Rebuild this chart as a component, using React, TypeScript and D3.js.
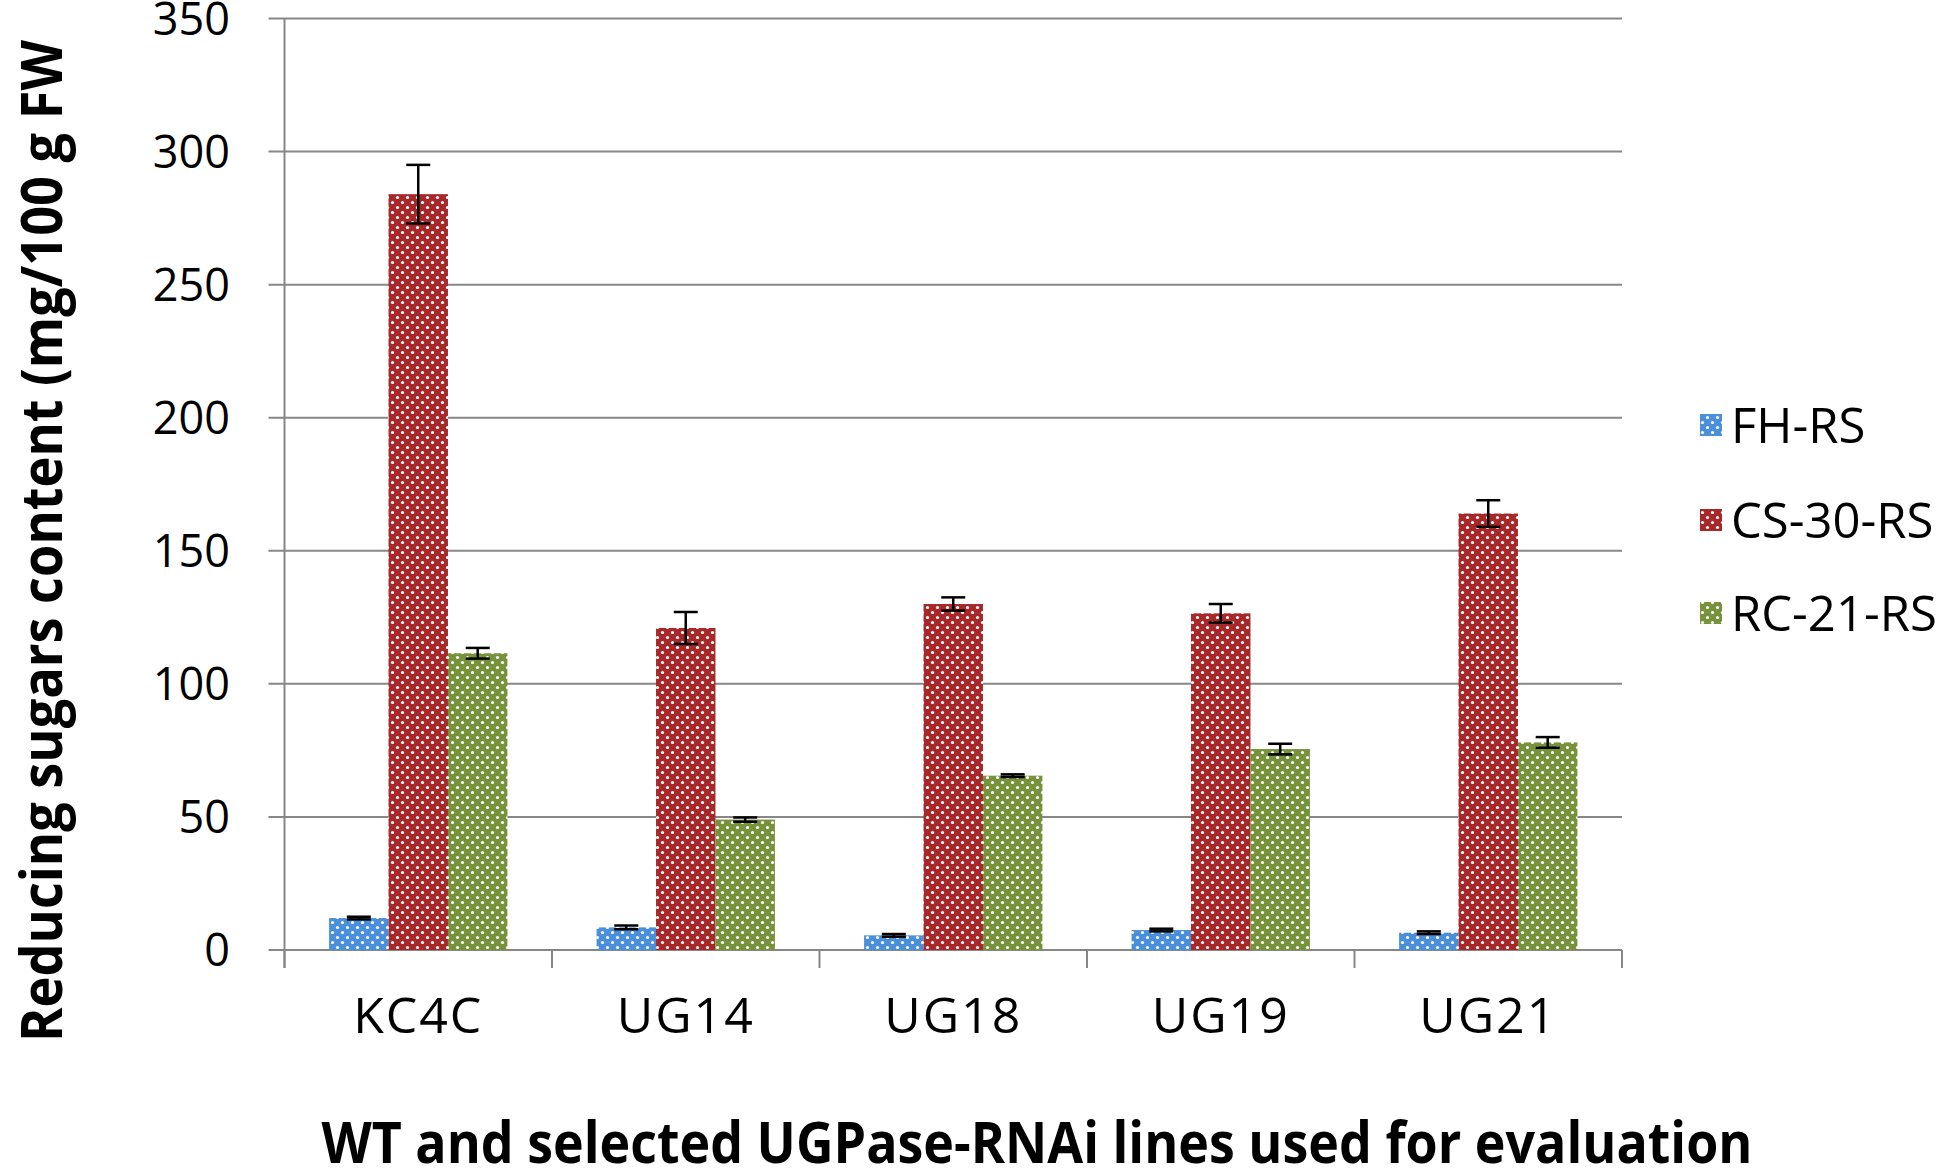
import React from "react";
import * as d3 from "d3";

const categories = ["KC4C", "UG14", "UG18", "UG19", "UG21"];
const seriesNames = ["FH-RS", "CS-30-RS", "RC-21-RS"];
const fhValues = [12, 8.5, 5.5, 7.5, 6.5];
const fhErrors = [0.5, 0.7, 0.5, 0.5, 0.5];
const csValues = [284, 121, 130, 126.5, 164];
const csErrors = [11, 6, 2.5, 3.5, 5];
const rcValues = [111.5, 49, 65.5, 75.5, 78];
const rcErrors = [2, 0.8, 0.5, 2, 2];
const yTicks = [0, 50, 100, 150, 200, 250, 300, 350];
const seriesColors = ["#4a8fdc", "#a8282a", "#76933c"];

const W = 1949;
const H = 1173;
const left = 284.5;
const right = 1622;
const top = 18.5;
const bottom = 950;
const FONT = "'Open Sans', 'Noto Sans', sans-serif";
const GRID = "#878787";

export default function App() {
  const y = d3.scaleLinear().domain([0, 350]).range([bottom, top]);
  const x = d3.scaleBand<string>().domain(categories).range([left, right]).paddingInner(0).paddingOuter(0);
  const bw = x.bandwidth() / 4.5;
  const sub = d3.scaleBand<number>().domain([0, 1, 2]).range([0.75 * bw, 3.75 * bw]).padding(0);

  const series = [
    { values: fhValues, errors: fhErrors },
    { values: csValues, errors: csErrors },
    { values: rcValues, errors: rcErrors },
  ];

  const legendY = [425, 520, 613];

  return (
    <svg width={W} height={H} style={{ position: "absolute", left: 0, top: 0, background: "#fff" }} fontFamily={FONT}>
      <defs>
        {seriesColors.map((c, i) => (
          <pattern key={i} id={`pat${i}`} patternUnits="userSpaceOnUse" width={10} height={10}>
            <rect width={10} height={10} fill={c} />
            <circle cx={2.5} cy={2.5} r={1.6} fill="#ffffff" />
            <circle cx={7.5} cy={7.5} r={1.6} fill="#ffffff" />
          </pattern>
        ))}
      </defs>
      <rect width={W} height={H} fill="#fff" />

      {yTicks.map((t) => (
        <line key={t} x1={left - 16} x2={right} y1={y(t)} y2={y(t)} stroke={GRID} strokeWidth={2} />
      ))}
      <line x1={left} x2={left} y1={top} y2={bottom + 18} stroke={GRID} strokeWidth={2} />
      {categories.map((c) => (
        <line key={c} x1={x(c)!} x2={x(c)!} y1={bottom} y2={bottom + 18} stroke={GRID} strokeWidth={2} />
      ))}
      <line x1={right} x2={right} y1={bottom} y2={bottom + 18} stroke={GRID} strokeWidth={2} />

      {yTicks.map((t) => (
        <text key={t} x={230} y={y(t)} dy="0.36em" textAnchor="end" fontSize={45} fill="#000">
          {t}
        </text>
      ))}

      {series.map((s, si) =>
        categories.map((c, ci) => {
          const bx = x(c)! + sub(si)!;
          const v = s.values[ci];
          return (
            <rect key={`${si}-${ci}`} x={bx} y={y(v)} width={sub.bandwidth()} height={y(0) - y(v)} fill={`url(#pat${si})`} />
          );
        })
      )}

      {series.map((s, si) =>
        categories.map((c, ci) => {
          const cx = x(c)! + sub(si)! + sub.bandwidth() / 2;
          const v = s.values[ci];
          const e = s.errors[ci];
          return (
            <g key={`e${si}-${ci}`} stroke="#000" strokeWidth={2.5}>
              <line x1={cx} x2={cx} y1={y(v + e)} y2={y(v - e)} />
              <line x1={cx - 12} x2={cx + 12} y1={y(v + e)} y2={y(v + e)} />
              <line x1={cx - 12} x2={cx + 12} y1={y(v - e)} y2={y(v - e)} />
            </g>
          );
        })
      )}

      {categories.map((c) => (
        <text key={c} x={x(c)! + x.bandwidth() / 2} y={1033} textAnchor="middle" fontSize={50} letterSpacing={2} fill="#000">
          {c}
        </text>
      ))}

      {seriesNames.map((n, i) => (
        <g key={n}>
          <rect x={1700} y={legendY[i] - 11} width={22} height={22} fill={`url(#pat${i})`} />
          <text x={1731} y={legendY[i]} dy="0.36em" fontSize={49} fill="#000">
            {n}
          </text>
        </g>
      ))}

      <text x={1037} y={1163} textAnchor="middle" fontSize={57} fontWeight="bold" fill="#000" textLength={1431} lengthAdjust="spacingAndGlyphs">
        WT and selected UGPase-RNAi lines used for evaluation
      </text>
      <text
        transform={`translate(62, 541) rotate(-90)`}
        textAnchor="middle"
        fontSize={57}
        fontWeight="bold"
        fill="#000"
        textLength={1002}
        lengthAdjust="spacingAndGlyphs"
      >
        Reducing sugars content (mg/100 g FW
      </text>
    </svg>
  );
}
